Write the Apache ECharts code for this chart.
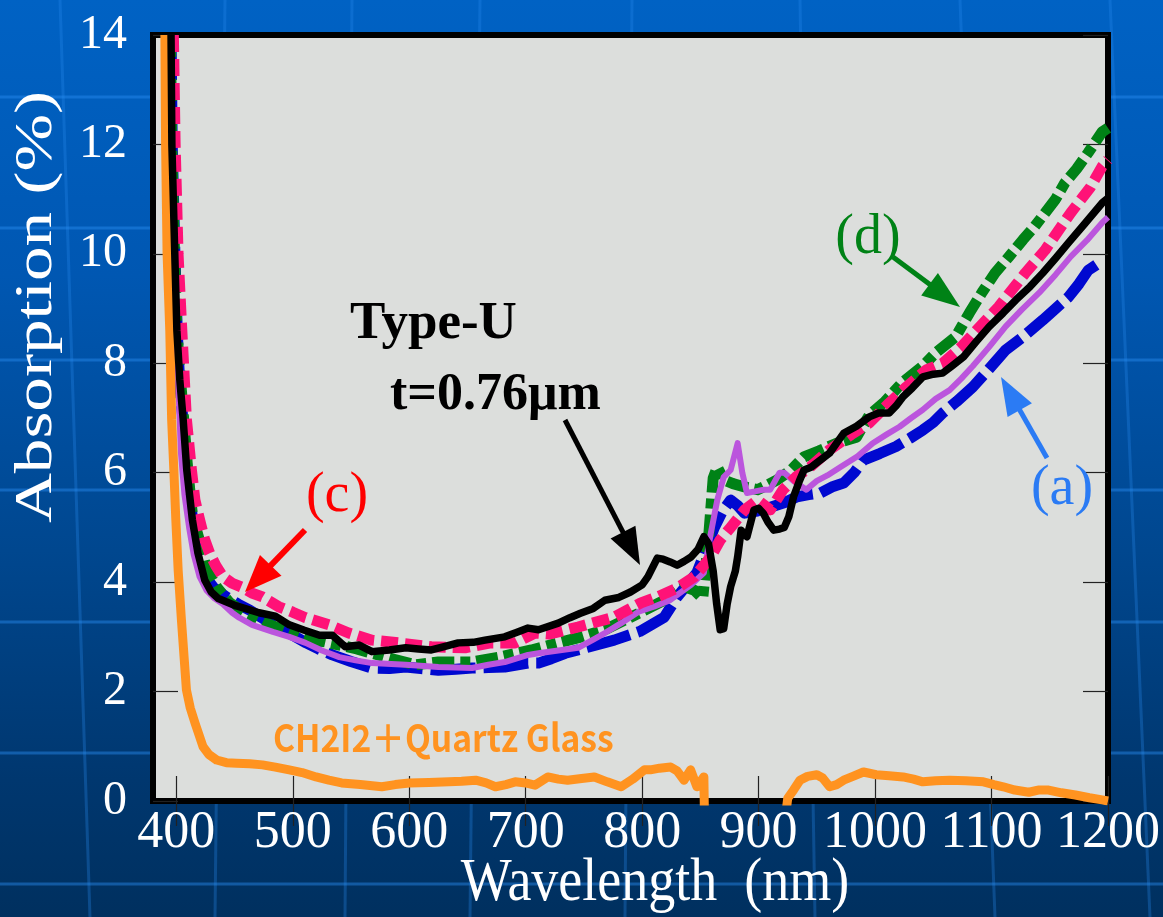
<!DOCTYPE html>
<html><head><meta charset="utf-8">
<script src="https://cdn.jsdelivr.net/npm/echarts@6/dist/echarts.min.js"></script>
<style>
html,body{margin:0;padding:0;width:1163px;height:917px;overflow:hidden;
background:linear-gradient(180deg,#0062c4 0%,#0057b2 30%,#00478f 60%,#00376f 85%,#00305f 100%);}
#c{width:1163px;height:917px;}
</style></head><body><div id="c"></div>
<script>
// ---- tick values ----
const xTicks = [400, 500, 600, 700, 800, 900, 1000, 1100, 1200];
const yTicks = [0, 2, 4, 6, 8, 10, 12, 14];

// ---- series (wavelength nm, absorption %) ----
const curveA_blue = [[395.5,14],[396.5,12],[398.8,10],[400.8,8.6],[403,7.6],[406,6.9],[409.5,6.0],[414,5.14],[419,4.55],[425,4.1],[432,3.9],[443,3.73],[453,3.6],[463,3.49],[475,3.33],[488,3.18],[500,3.03],[511.5,2.89],[522,2.78],[534,2.67],[550,2.55],[568,2.43],[583,2.42],[597,2.45],[610,2.42],[625,2.39],[640,2.41],[654,2.43],[668,2.44],[682,2.45],[702,2.52],[711,2.52],[722,2.6],[734,2.7],[755,2.82],[776,2.94],[798,3.1],[819,3.36],[830,3.73],[847,4.17],[855,4.6],[862,5.0],[869,5.3],[876,5.5],[882,5.4],[888,5.26],[899,5.3],[910,5.37],[922,5.45],[933,5.56],[943,5.6],[953,5.63],[964,5.75],[973,5.81],[982,6.0],[990,6.23],[1004,6.35],[1018,6.48],[1030,6.63],[1041,6.78],[1050,6.92],[1058,7.09],[1070,7.3],[1084,7.57],[1098,7.9],[1112,8.24],[1128,8.5],[1144,8.79],[1155,9.0],[1166,9.21],[1175,9.45],[1183,9.7],[1190,9.8]];

const curveD_green = [[395,14],[396,12],[398.5,10],[400.5,8.6],[404,7.6],[407,6.8],[410,6.0],[414,5.2],[420,4.75],[426,4.22],[435,3.9],[446,3.62],[460,3.42],[477,3.25],[495,3.1],[511,2.98],[525,2.92],[540,2.85],[555,2.78],[568,2.7],[585,2.6],[605,2.49],[625,2.54],[654,2.54],[677,2.63],[705,2.76],[728,2.89],[748,3.0],[768,3.13],[797,3.43],[819,3.67],[836,3.92],[845,3.85],[852,3.7],[857,4.8],[861,5.9],[864.5,6.1],[870,5.87],[878,5.8],[888,5.74],[899,5.69],[908,5.78],[916,5.87],[928,6.05],[939,6.29],[952,6.4],[967,6.54],[984,6.65],[995,7.05],[1008,7.29],[1023,7.64],[1041,7.95],[1052,8.19],[1069,8.48],[1081,8.92],[1092,9.3],[1103,9.65],[1115,9.95],[1127,10.26],[1137,10.5],[1146,10.75],[1155,11.0],[1163,11.3],[1173,11.55],[1183,11.85],[1195,12.23],[1200,12.3]];

const curvePurple = [[395,14],[396,12],[398,10],[400,8.6],[402,7.5],[404,6.36],[407,5.6],[411,5.0],[415,4.5],[420,4.1],[426,3.85],[433,3.7],[440,3.6],[448,3.44],[454,3.35],[465,3.22],[483,3.09],[497,3.0],[511,2.89],[525,2.75],[540,2.63],[554,2.57],[568,2.52],[597,2.49],[625,2.45],[654,2.43],[668,2.49],[682,2.54],[702,2.67],[711,2.7],[728,2.75],[745,2.8],[758,2.95],[768,3.07],[782,3.25],[797,3.46],[810,3.55],[824,3.67],[842,3.95],[853,4.17],[859,4.9],[864.5,5.5],[870,5.92],[876,6.05],[882,6.54],[886,6.0],[890,5.63],[897,5.66],[904.5,5.69],[910,5.69],[918,6.0],[922,6.0],[930,5.85],[941,5.69],[950,5.85],[959,5.95],[970,6.1],[985,6.3],[998,6.54],[1010,6.7],[1021,6.84],[1031,7.0],[1041,7.15],[1052,7.35],[1064,7.51],[1074,7.72],[1084,7.95],[1098,8.3],[1112,8.67],[1126,8.98],[1141,9.29],[1155,9.62],[1168,9.95],[1182,10.25],[1195,10.57],[1200,10.67]];

const curveC_pink = [[397.5,14],[399,12],[401.5,10],[404.5,8.7],[408.7,6.97],[413,6.05],[416,5.5],[420,5.14],[424,4.8],[428.6,4.53],[434,4.3],[440,4.1],[448,3.98],[457,3.9],[465,3.8],[474,3.73],[488,3.55],[500,3.45],[511,3.35],[531,3.22],[548,3.07],[568,2.94],[591,2.89],[619,2.82],[648,2.8],[670,2.89],[691,2.89],[708,3.07],[720,3.05],[745,3.18],[776,3.36],[799,3.62],[813,3.73],[830,3.89],[845,4.1],[859,4.46],[867,4.77],[876,5.0],[888,5.32],[899,5.5],[910,5.32],[921,5.69],[932,5.92],[944,6.1],[961,6.42],[981,6.72],[995,6.91],[1012,7.27],[1027,7.57],[1044,7.88],[1058,8.0],[1074,8.3],[1090,8.67],[1106,9.03],[1129,9.65],[1146,10.07],[1168,10.75],[1185,11.22],[1195,11.6],[1200,11.72]];

const curveTypeU_black = [[395.5,14],[396.2,12],[398.7,10],[400.5,8.6],[403,7.7],[405.8,7.0],[409,6.05],[413.8,5.14],[418.6,4.53],[424.4,4.04],[430,3.82],[436,3.7],[451,3.57],[471,3.44],[485,3.38],[497,3.22],[510,3.12],[523,3.03],[534,3.03],[545,2.82],[557,2.85],[568,2.73],[583,2.76],[597,2.8],[608,2.78],[619,2.76],[630,2.82],[642,2.89],[655,2.9],[665,2.94],[682,3.0],[692,3.08],[702,3.16],[711,3.13],[728,3.25],[738,3.35],[747,3.43],[758,3.52],[768,3.67],[780,3.72],[790,3.82],[800,3.95],[805,4.1],[813,4.44],[818,4.42],[824,4.37],[830,4.31],[836,4.38],[842,4.46],[848,4.6],[853,4.83],[857,4.7],[861,4.2],[864,3.6],[867,3.13],[870,3.15],[873,3.6],[876,3.92],[880,4.2],[882,4.46],[885,4.95],[890,4.83],[896,5.32],[900,5.35],[904,5.26],[908,5.1],[913,4.95],[918,4.97],[922,5.0],[926,5.2],[930,5.56],[935,5.85],[939,6.05],[945,6.1],[950,6.18],[961,6.36],[967,6.54],[973,6.72],[984,6.85],[995,7.02],[1003,7.09],[1012,7.09],[1018,7.22],[1024,7.39],[1032,7.55],[1041,7.75],[1050,7.8],[1058,7.82],[1066,7.95],[1076,8.12],[1087,8.4],[1098,8.67],[1110,8.92],[1121,9.16],[1133,9.4],[1144,9.65],[1155,9.92],[1166,10.2],[1180,10.55],[1195,10.93],[1200,11.02]];

const curveCH2I2_orange = [[390.2,14],[390.8,12],[392.1,10],[394.4,8.6],[396,6.97],[397.9,6.05],[399.6,5.14],[401.6,4.22],[404.4,3.31],[408.7,2.03],[412,1.7],[416,1.43],[423,0.99],[428,0.85],[434.6,0.75],[443,0.7],[451.7,0.69],[463,0.68],[474,0.66],[485,0.62],[497,0.57],[508,0.52],[520,0.44],[531,0.38],[542,0.33],[558,0.3],[576.5,0.26],[588,0.3],[600,0.33],[617,0.34],[634,0.35],[645,0.36],[657,0.38],[666,0.33],[674,0.26],[683,0.3],[691,0.35],[700,0.33],[708,0.29],[719,0.44],[728,0.4],[736,0.38],[748,0.41],[759,0.44],[770,0.35],[782,0.26],[792,0.4],[802,0.57],[807,0.57],[815,0.6],[824.5,0.62],[830,0.55],[836,0.38],[841.6,0.57],[847,0.26],[853,0.44],[854,-1],[919,-1],[925,0.05],[930,0.2],[935.5,0.38],[942,0.45],[950,0.48],[955,0.42],[961,0.26],[967,0.3],[973,0.38],[981,0.45],[990,0.53],[1001,0.48],[1012,0.46],[1024,0.44],[1033,0.4],[1041,0.35],[1052,0.37],[1064,0.38],[1078,0.37],[1093,0.35],[1102,0.3],[1110,0.26],[1120,0.2],[1132,0.16],[1140,0.2],[1149,0.2],[1160,0.15],[1172,0.11],[1184,0.06],[1195,0.02],[1200,0.0]];

// ---- chart ----
const chart = echarts.init(document.getElementById('c'), null, {renderer: 'canvas'});

function arrow(tail, tip, color, shaftW, headLen, headHW) {
  const dx = tip[0] - tail[0], dy = tip[1] - tail[1];
  const L = Math.hypot(dx, dy), ux = dx / L, uy = dy / L;
  const bx = tip[0] - ux * headLen, by = tip[1] - uy * headLen;
  const px = -uy, py = ux;
  return [
    {type: 'line', z: 100, shape: {x1: tail[0], y1: tail[1], x2: bx + ux * 3, y2: by + uy * 3},
     style: {stroke: color, lineWidth: shaftW}},
    {type: 'polygon', z: 100, shape: {points: [[tip[0], tip[1]], [bx + px * headHW, by + py * headHW], [bx - px * headHW, by - py * headHW]]},
     style: {fill: color}}
  ];
}

const bgColor = 'rgba(40,140,240,0.45)';
const bgLines = [97, 228, 360, 490, 622, 753, 884].map(y => ({
  type: 'line', z: -10, silent: true,
  shape: {x1: 0, y1: y, x2: 1163, y2: y},
  style: {stroke: bgColor, lineWidth: 3}
})).concat([[60, 0, 90, 917], [225, 0, 215, 917], [352, 0, 345, 917], [480, 0, 470, 917], [632, 0, 625, 917], [800, 0, 815, 917], [960, 0, 995, 917], [1110, 0, 1150, 917]].map(p => ({
  type: 'line', z: -10, silent: true,
  shape: {x1: p[0], y1: p[1], x2: p[2], y2: p[3]},
  style: {stroke: 'rgba(40,140,240,0.3)', lineWidth: 3}
})));

const serif = '"Liberation Serif", "Times New Roman", serif';

const graphics = [].concat(
  bgLines,
  arrow([305, 530], [245, 592], '#ff0000', 6, 37, 15),
  arrow([893, 257], [960, 307], '#008216', 5, 38, 14),
  arrow([1047, 458], [1001, 377], '#2b7bf4', 5, 38, 14),
  arrow([565, 420], [640, 565], '#000000', 5, 37, 14),
  [
    {type: 'text', z: 100, x: 337, y: 496, style: {text: '(c)', fill: '#ff0000', font: '56px ' + serif, align: 'center', verticalAlign: 'middle'}},
    {type: 'text', z: 100, x: 868, y: 238, style: {text: '(d)', fill: '#008216', font: '56px ' + serif, align: 'center', verticalAlign: 'middle'}},
    {type: 'text', z: 100, x: 1062, y: 489, style: {text: '(a)', fill: '#2b7bf4', font: '56px ' + serif, align: 'center', verticalAlign: 'middle'}},
    {type: 'text', z: 100, x: 350, y: 324, style: {text: 'Type-U', fill: '#000', font: 'bold 53px ' + serif, align: 'left', verticalAlign: 'middle'}},
    {type: 'text', z: 100, x: 390, y: 396, style: {text: 't=0.76\u03bcm', fill: '#000', font: 'bold 52px ' + serif, align: 'left', verticalAlign: 'middle'}},
    {type: 'text', z: 100, x: 273, y: 738, scaleX: 0.885, style: {text: 'CH2I2\uff0bQuartz Glass', fill: '#ff9320', font: 'bold 38px "Noto Sans CJK JP"', align: 'left', verticalAlign: 'middle'}},
    {type: 'text', z: 100, x: 37, y: 307, rotation: Math.PI / 2, scaleX: 1.33, style: {text: 'Absorption (%)', fill: '#fff', font: '52px ' + serif, align: 'center', verticalAlign: 'middle'}},
    {type: 'text', z: 100, x: 655, y: 884, scaleY: 1.12, style: {text: 'Wavelength  (nm)', fill: '#fff', font: '54px ' + serif, align: 'center', verticalAlign: 'middle'}}
  ]
);

function lineSeries(name, data, color, width, dash, z) {
  return {
    name, type: 'line', data, showSymbol: false, symbol: 'none', z, clip: true,
    lineStyle: {color, width, type: dash || 'solid', cap: 'butt', join: 'round'},
    animation: false
  };
}

const tickStyle = {color: '#222', width: 1.2};

chart.setOption({
  animation: false,
  backgroundColor: 'transparent',
  grid: {left: 153, right: 50, top: 35, bottom: 116, show: true,
         backgroundColor: '#dcdedc', borderColor: '#000', borderWidth: 6},
  xAxis: [
    {type: 'value', min: 380, max: 1200, position: 'bottom',
     axisLine: {show: false}, splitLine: {show: false},
     axisTick: {show: true, inside: true, length: 25, customValues: xTicks, lineStyle: tickStyle},
     axisLabel: {customValues: xTicks, formatter: v => String(v), color: '#fff', fontFamily: serif, fontSize: 52, margin: 6}},
    {type: 'value', min: 380, max: 1200, position: 'top',
     axisLine: {show: false}, splitLine: {show: false},
     axisTick: {show: true, inside: true, length: 25, customValues: xTicks, lineStyle: tickStyle},
     axisLabel: {show: false}}
  ],
  yAxis: [
    {type: 'value', min: 0, max: 14, interval: 2, position: 'left',
     axisLine: {show: false}, splitLine: {show: false},
     axisTick: {show: true, inside: true, length: 25, lineStyle: tickStyle},
     axisLabel: {formatter: v => String(v), color: '#fff', fontFamily: serif, fontSize: 48, margin: 26}},
    {type: 'value', min: 0, max: 14, interval: 2, position: 'right',
     axisLine: {show: false}, splitLine: {show: false},
     axisTick: {show: true, inside: true, length: 25, lineStyle: tickStyle},
     axisLabel: {show: false}}
  ],
  series: [
    lineSeries('(a)', curveA_blue, '#0008d0', 11, [45, 8], 2),
    lineSeries('(d)', curveD_green, '#008216', 11, [22, 6, 10, 6], 3),
    lineSeries('purple', curvePurple, '#bb55dd', 6, 'solid', 4),
    lineSeries('(c)', curveC_pink, '#ff1277', 11, [17, 7], 5),
    lineSeries('CH2I2+Quartz Glass', curveCH2I2_orange, '#ff9320', 9, 'solid', 6),
    lineSeries('Type-U', curveTypeU_black, '#000000', 7.5, 'solid', 7)
  ],
  graphic: graphics
});
</script></body></html>
